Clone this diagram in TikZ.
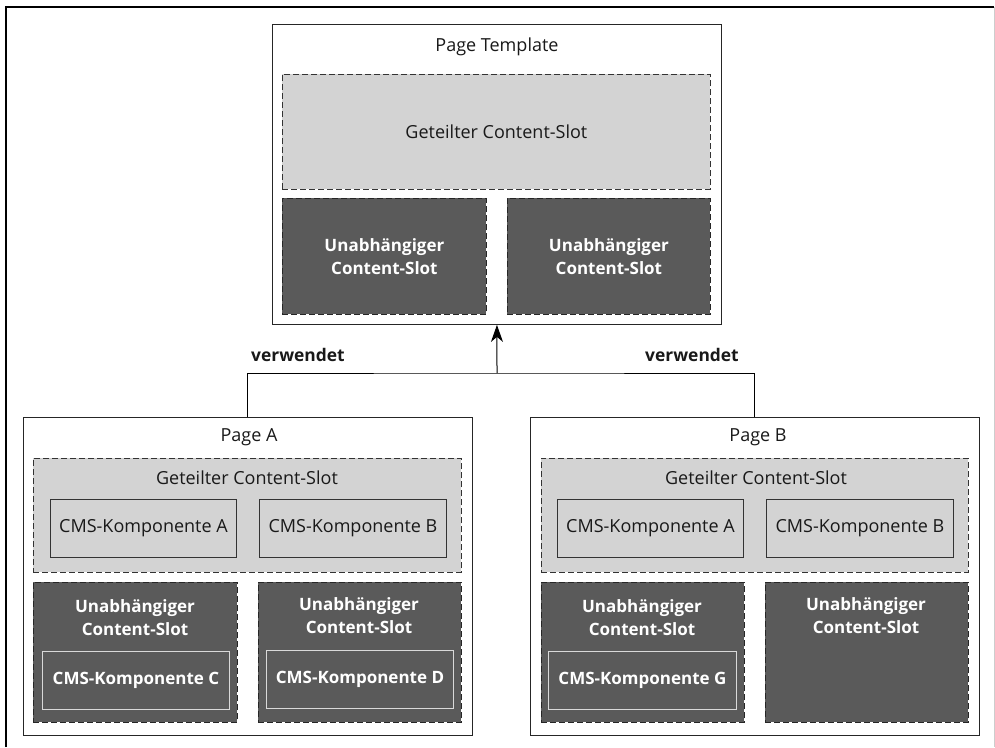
\documentclass[tikz,border=0pt]{standalone}
\usepackage{fontspec}
\setmainfont{Open Sans}
\usetikzlibrary{arrows.meta}

\definecolor{slotlight}{RGB}{211,211,211}
\definecolor{slotdark}{RGB}{90,90,90}
\definecolor{framegray}{RGB}{205,205,205}

\tikzset{
  pagebox/.style={draw=black!85, line width=0.9pt, fill=white, anchor=north west, inner sep=0pt},
  sharedslot/.style={draw=black!80, line width=0.8pt, dash pattern=on 6pt off 3pt, fill=slotlight, anchor=north west, inner sep=0pt},
  indepslot/.style={draw=black!85, line width=0.8pt, dash pattern=on 6pt off 3pt, fill=slotdark, anchor=north west, inner sep=0pt},
  compbox/.style={draw=black!80, line width=0.9pt, fill=slotlight, anchor=north west, inner sep=0pt},
  compdark/.style={draw=black!15, line width=0.9pt, anchor=north west, inner sep=0pt},
  lbl/.style={font=\fontsize{18}{20}\selectfont, text=black!90},
  lblwhite/.style={font=\fontsize{17}{23}\selectfont\bfseries, text=white, align=center},
  uses/.style={font=\fontsize{17.4}{20}\selectfont\bfseries, text=black!90},
}

% box from top-left (x1,y1) to bottom-right (x2,y2), pixel units
\newcommand\slotbox[6]{\node[#1, minimum width={(#5-#3)*1pt}, minimum height={(#6-#4)*1pt}] (#2) at (#3,#4) {};}

\begin{document}
\begin{tikzpicture}[x=1pt, y=-1pt]
\useasboundingbox (0,0) rectangle (995,747);

% ── Frame ──
\draw[black, line width=1.1pt] (6,747) -- (6,7) -- (994,7);
\draw[framegray, line width=1pt] (994,7) -- (994,747);

% ── Page Template ──
\slotbox{pagebox}{tmpl}{272}{24}{721}{324}
\node[lbl] (tmpltitle) at (497,47) {Page Template};
\slotbox{sharedslot}{tshared}{282}{74}{710}{189}
\node[lbl] (tsharedlbl) at (tshared.center) {Geteilter Content-Slot};
\slotbox{indepslot}{tindL}{282}{198}{486}{314}
\slotbox{indepslot}{tindR}{507}{198}{710}{314}
\node[lblwhite] (tindLlbl) at (tindL.center) {Unabhängiger\\Content-Slot};
\node[lblwhite] (tindRlbl) at (tindR.center) {Unabhängiger\\Content-Slot};

% ── Page A ──
\slotbox{pagebox}{pageA}{23}{417}{472}{735}
\node[lbl] (pageAtitle) at (249,437) {Page A};
\slotbox{sharedslot}{ashared}{33}{458}{461}{572}
\node[lbl] (asharedlbl) at (247,478) {Geteilter Content-Slot};
\slotbox{compbox}{acompA}{50}{499}{236}{557}
\slotbox{compbox}{acompB}{259}{499}{446}{557}
\node[lbl] at (acompA.center) {CMS-Komponente A};
\node[lbl] at (acompB.center) {CMS-Komponente B};
\slotbox{indepslot}{aindC}{33}{582}{237}{722}
\slotbox{indepslot}{aindD}{258}{582}{461}{722}
\node[lblwhite] (aindClbl) at (135,618) {Unabhängiger\\Content-Slot};
\node[lblwhite] (aindDlbl) at (359,616) {Unabhängiger\\Content-Slot};
\slotbox{compdark}{acompC}{42}{651}{229}{709}
\slotbox{compdark}{acompD}{266}{650}{453}{708}
\node[lblwhite] at (acompC.center) {CMS-Komponente C};
\node[lblwhite] at (acompD.center) {CMS-Komponente D};

% ── Page B ──
\slotbox{pagebox}{pageB}{530}{417}{979}{735}
\node[lbl] (pageBtitle) at (758,437) {Page B};
\slotbox{sharedslot}{bshared}{541}{458}{968}{572}
\node[lbl] (bsharedlbl) at (756,478) {Geteilter Content-Slot};
\slotbox{compbox}{bcompA}{557}{499}{743}{557}
\slotbox{compbox}{bcompB}{766}{499}{953}{557}
\node[lbl] at (bcompA.center) {CMS-Komponente A};
\node[lbl] at (bcompB.center) {CMS-Komponente B};
\slotbox{indepslot}{bindL}{541}{582}{744}{722}
\slotbox{indepslot}{bindR}{765}{582}{968}{722}
\node[lblwhite] (bindLlbl) at (642,618) {Unabhängiger\\Content-Slot};
\node[lblwhite] (bindRlbl) at (866,616) {Unabhängiger\\Content-Slot};
\slotbox{compdark}{bcompG}{548}{651}{736}{709}
\node[lblwhite] at (bcompG.center) {CMS-Komponente G};

% ── Connectors ──
\coordinate (join) at (497,373);
\draw[black, line width=1pt] (pageA.north) |- (join) -| (pageB.north);
\draw[black, line width=1pt, -{Stealth[length=17pt, width=12pt, inset=5pt]}] (join) -- (tmpl.south);
\node[uses] (usesA) at (298,355) {verwendet};
\node[uses] (usesB) at (692,355) {verwendet};

\end{tikzpicture}
\end{document}
